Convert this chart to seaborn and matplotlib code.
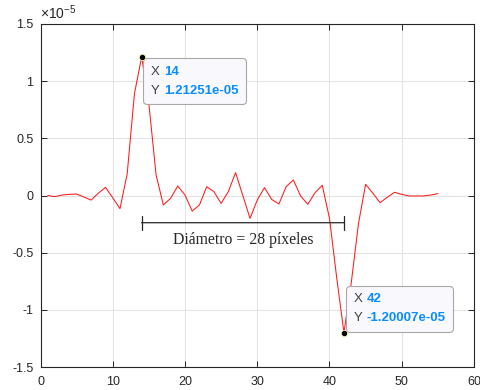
import numpy as np
import pandas as pd
import seaborn as sns
import matplotlib
matplotlib.use("Agg")
import matplotlib.pyplot as plt
from matplotlib.offsetbox import TextArea, HPacker, VPacker, AnnotationBbox
from matplotlib.ticker import FuncFormatter, FixedLocator

# ---------------- data ----------------
pixel = list(range(1, 56))
derivative_e5 = [
    0.000, -0.010, 0.004, 0.010, 0.013, -0.013, -0.040, 0.020, 0.071, -0.020,
    -0.115, 0.190, 0.890, 1.21251, 0.800, 0.180, -0.083, -0.025, 0.083, 0.004,
    -0.136, -0.083, 0.077, 0.034, -0.069, 0.034, 0.200, 0.000, -0.200, -0.040,
    0.069, -0.034, -0.074, 0.077, 0.136, -0.004, -0.077, 0.025, 0.089, -0.200,
    -0.720, -1.20007, -0.770, -0.250, 0.098, 0.020, -0.063, -0.015, 0.028, 0.010,
    -0.004, -0.004, -0.004, 0.004, 0.016,
]
scale = 1e-5
x_ticks = [0, 10, 20, 30, 40, 50, 60]
y_ticks_e5 = [-1.5, -1, -0.5, 0, 0.5, 1, 1.5]
label_text = "Diámetro = {:g} píxeles"

# ---------------- style ----------------
sns.set_theme(style="white")
plt.rcParams["font.family"] = ["Liberation Sans", "DejaVu Sans"]
plt.rcParams["axes.unicode_minus"] = False
plt.rcParams["mathtext.fontset"] = "custom"
plt.rcParams["mathtext.rm"] = "Liberation Sans"

axis_col = "#262626"

fig = plt.figure(figsize=(4.8, 3.9), dpi=100)
ax = fig.add_axes([40.5 / 480, 1 - 367 / 390, (474 - 40.5) / 480, (367 - 24) / 390])

df = pd.DataFrame({"x": pixel, "y": np.array(derivative_e5) * scale})
sns.lineplot(data=df, x="x", y="y", color="#ff1a1a", lw=0.75, ax=ax, zorder=3)

ax.set_xlim(x_ticks[0], x_ticks[-1])
ax.set_ylim(y_ticks_e5[0] * scale, y_ticks_e5[-1] * scale)
ax.xaxis.set_major_locator(FixedLocator(x_ticks))
ax.yaxis.set_major_locator(FixedLocator([v * scale for v in y_ticks_e5]))
ax.yaxis.set_major_formatter(FuncFormatter(lambda v, _: f"{round(v / scale, 3):g}"))
ax.set_xlabel("")
ax.set_ylabel("")

ax.grid(True, color="#e3e3e3", lw=0.8, zorder=0)
ax.set_axisbelow(True)
for s in ax.spines.values():
    s.set_color(axis_col)
    s.set_linewidth(0.8)
ax.tick_params(direction="in", length=4, width=0.7, color=axis_col,
               labelcolor=axis_col, labelsize=9, top=True, right=True,
               bottom=True, left=True)
ax.tick_params(axis="y", pad=5)
ax.tick_params(axis="x", pad=6.5)

ax.text(0.0, 1.006, r"$\times10^{-5}$", transform=ax.transAxes, ha="left",
        va="bottom", color=axis_col, fontsize=10)

# ---------------- datatips ----------------
y_arr = df["y"].to_numpy()
i_max = int(np.argmax(y_arr))
i_min = int(np.argmin(y_arr))
x_max, y_max = pixel[i_max], y_arr[i_max]
x_min, y_min = pixel[i_min], y_arr[i_min]

lab_col = "#404040"
val_col = "#0a8cff"


def datatip(xv, yv, align, offset):
    rows = []
    for lab, val in (("X", f"{xv:g}"), ("Y", f"{yv:.5e}")):
        rows.append(HPacker(children=[
            TextArea(lab, textprops=dict(color=lab_col, size=9.5)),
            TextArea(val, textprops=dict(color=val_col, size=9.5, weight="bold")),
        ], sep=3.5, pad=0, align="baseline"))
    box = VPacker(children=rows, sep=5, pad=5.3, align="left")
    ab = AnnotationBbox(box, (xv, yv), xybox=offset, xycoords="data",
                        boxcoords="offset points", box_alignment=align,
                        frameon=True, pad=0,
                        bboxprops=dict(boxstyle="round,pad=0,rounding_size=0.25",
                                       fc="#f9f9fd", ec="#a8a8a8", lw=0.8))
    ab.set_zorder(5)
    ax.add_artist(ab)
    ax.plot([xv], [yv], "o", ms=4.5, mfc="black", mec="#f0f0a0", mew=0.6,
            zorder=6)


datatip(x_max, y_max, (0, 1), (1.3, -1.0))
datatip(x_min, y_min, (0, 0), (1.4, 0.7))

# ---------------- diameter bracket ----------------
bracket_y = -0.238 * scale
ax.annotate("", xy=(x_max, bracket_y), xytext=(x_min, bracket_y),
            arrowprops=dict(arrowstyle="|-|,widthA=0.42,widthB=0.42",
                            color=axis_col, lw=0.9, shrinkA=0, shrinkB=0),
            zorder=4)
ax.text((x_max + x_min) / 2, -0.385 * scale, label_text.format(x_min - x_max),
        ha="center", va="center", family=["Liberation Serif", "DejaVu Serif"],
        fontsize=11.3, color=axis_col, zorder=4)

fig.savefig("out.png", dpi=100)
